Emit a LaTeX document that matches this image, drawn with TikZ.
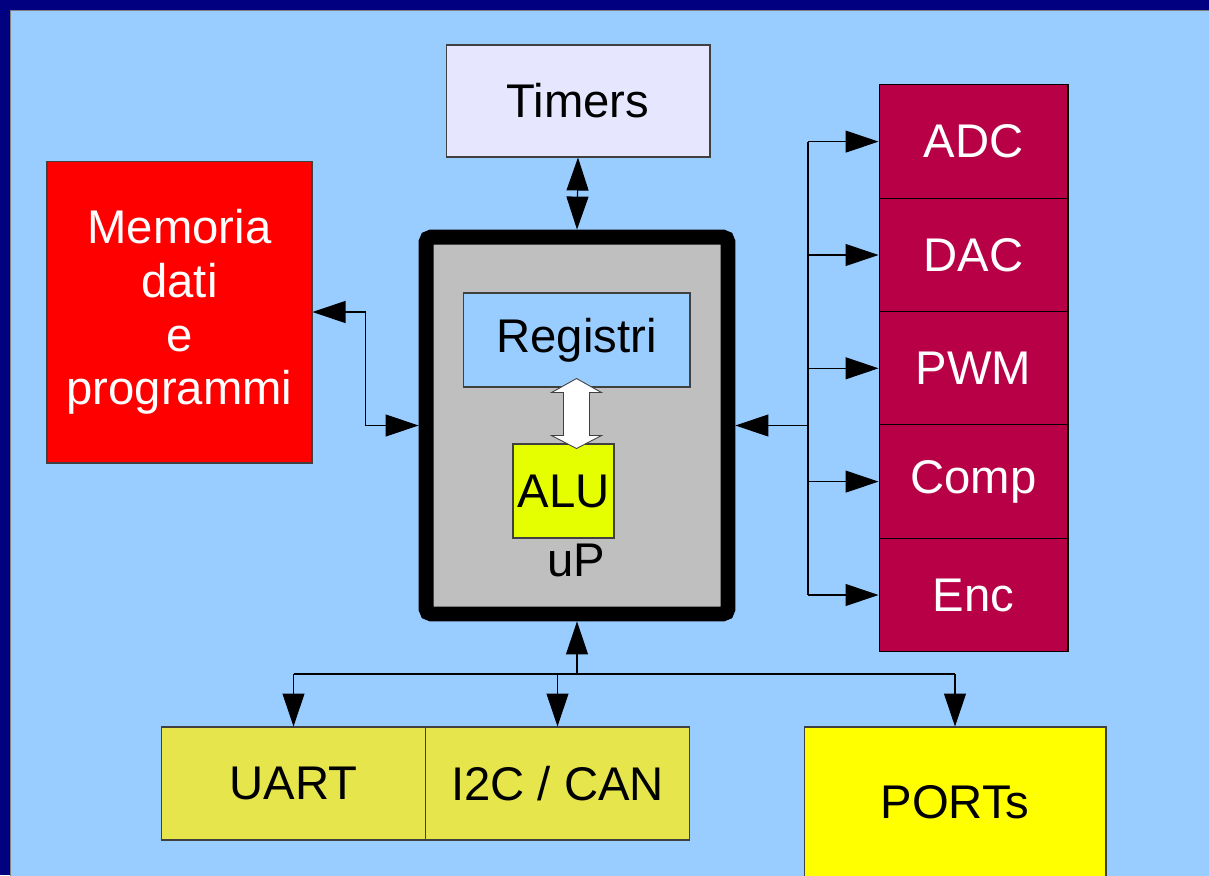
\documentclass[tikz,border=0pt]{standalone}
\usepackage{fontspec}
\setmainfont{Liberation Sans}
\usepackage{tikz}
\usetikzlibrary{arrows.meta,positioning,calc}
\usepackage{xcolor}
\definecolor{slidenavy}{RGB}{0,0,128}
\definecolor{slidesky}{RGB}{153,204,255}
\definecolor{timerlav}{RGB}{230,230,255}
\definecolor{alulime}{RGB}{230,255,0}
\definecolor{periphred}{RGB}{184,0,71}
\definecolor{commolive}{RGB}{230,230,76}
\definecolor{portyellow}{RGB}{255,255,0}

\begin{document}
\begin{tikzpicture}[
  x=0.02cm, y=-0.02cm,
  >={Triangle[length=0.66cm,width=0.44cm]},
  box/.style={draw=black!75, line width=0.6pt, inner sep=0pt, align=center, font=\fontsize{26.9}{30.6}\selectfont},
  cell/.style={box, draw=black, fill=periphred, text=white, minimum width=3.78cm, minimum height=2.266cm},
  comm/.style={box, fill=commolive, minimum width=5.3cm, minimum height=2.26cm},
  arr/.style={->, line width=0.6pt, draw=black},
  biarr/.style={<->, line width=0.6pt, draw=black}
]
\useasboundingbox (0,0) rectangle (1209,875);
\fill[slidenavy] (0,0) rectangle (1209,875);
\filldraw[fill=slidesky, draw=black!50, line width=0.4pt] (10,10) rectangle (1220,885);

\node[box, fill=timerlav, minimum width=5.28cm, minimum height=2.24cm] (tim) at (578,101) {Timers};
\node[box, fill=red, text=white, minimum width=5.3cm, minimum height=6.04cm] (mem) at (179.5,312) {Memoria\\dati\\e\\programmi};

\node[draw=black, line width=8.5pt, rounded corners=3pt, fill=black!25, minimum width=6.04cm, minimum height=7.54cm] (up) at (577,425.5) {};
\node[box, fill=slidesky, minimum width=4.54cm, minimum height=1.88cm] (reg) at (576.5,340) {Registri};
\node[box, fill=alulime, minimum width=2.02cm, minimum height=1.88cm] (alu) at (563.5,491) {ALU};
\node[font=\fontsize{26.9}{30.6}\selectfont, inner sep=0pt] (uptxt) at (576,560) {uP};

\node[cell] (adc) at (973.5,141.6) {ADC};
\node[cell] (dac) at (973.5,255) {DAC};
\node[cell] (pwm) at (973.5,368.3) {PWM};
\node[cell] (comp) at (973.5,481.6) {Comp};
\node[cell] (enc) at (973.5,595) {Enc};

\node[comm] (uart) at (293.5,783.5) {UART};
\node[comm, minimum width=5.28cm] (i2c) at (557.5,783.5) {I2C / CAN};
\node[box, fill=portyellow, minimum width=6.04cm, minimum height=3cm] (ports) at (955,802) {PORTs};

% internal bus registri <-> ALU
\draw[fill=white, draw=black!75, line width=0.5pt] ($(reg.south)+(0,-9)$) -- ++(25,14) -- ++(-12,0) -- ++(0,43) -- ++(12,0)
  -- ++(-25,13) -- ++(-25,-13) -- ++(12,0) -- ++(0,-43) -- ++(-12,0) -- cycle;

\draw[biarr] (tim.south) -- (up.north);
\draw[biarr] (mem.east) -- ++(53,0) |- (up.west);

% peripheral bus on the right
\coordinate (rbus) at (808,425.5);
\draw[arr] (rbus) -- (up.east);
\draw[line width=0.6pt] (rbus |- adc.west) -- (rbus |- enc.west);
\draw[arr] (rbus |- adc.west) -- (adc.west);
\draw[arr] (rbus |- dac.west) -- (dac.west);
\draw[arr] (rbus |- pwm.west) -- (pwm.west);
\draw[arr] (rbus |- comp.west) -- (comp.west);
\draw[arr] (rbus |- enc.west) -- (enc.west);

% communication bus below
\coordinate (bbus) at (577,674);
\draw[arr] (bbus) -- (up.south);
\draw[line width=0.6pt] (bbus -| uart.north) -- (bbus -| ports.north);
\draw[arr] (bbus -| uart.north) -- (uart.north);
\draw[arr] (bbus -| i2c.north) -- (i2c.north);
\draw[arr] (bbus -| ports.north) -- (ports.north);
\end{tikzpicture}
\end{document}
